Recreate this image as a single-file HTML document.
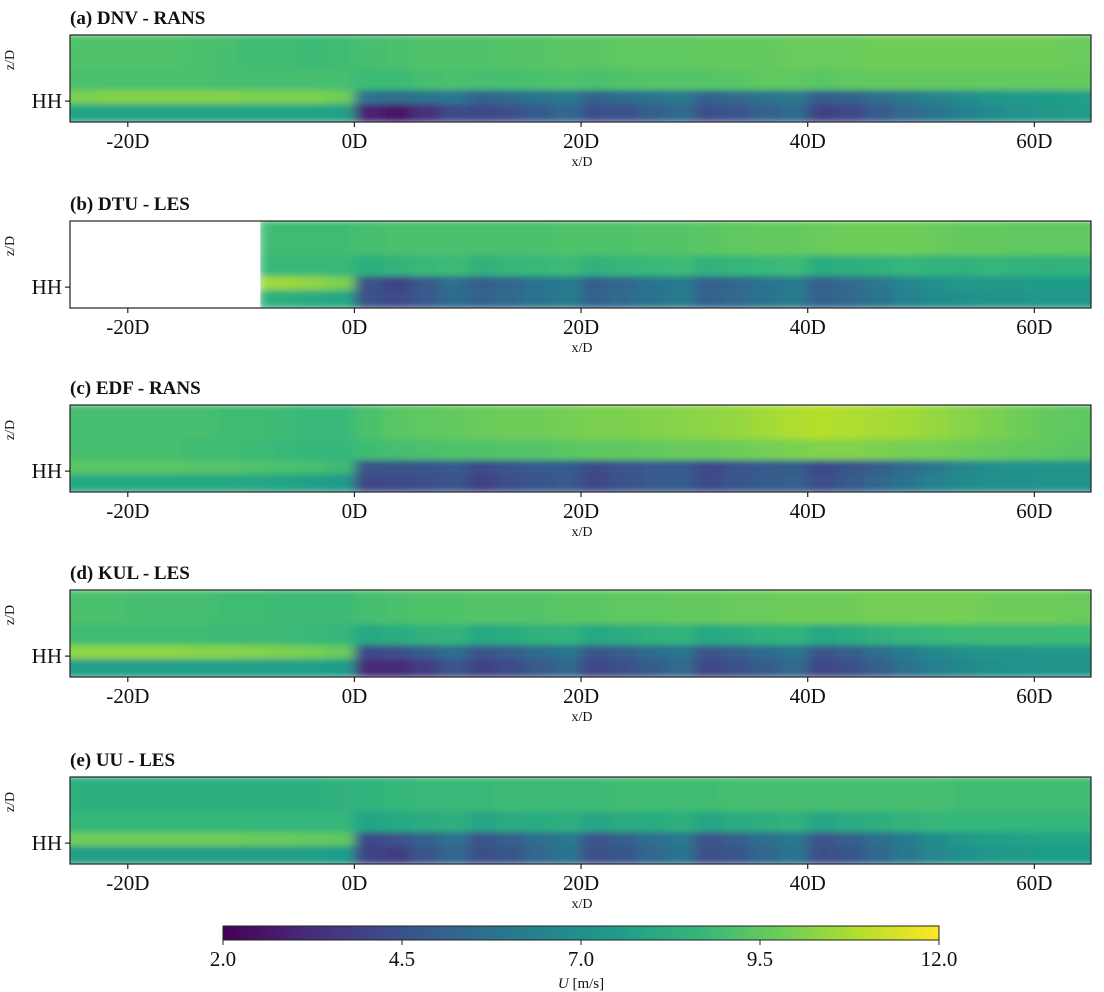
<!DOCTYPE html>
<html><head><meta charset="utf-8">
<style>
html,body{margin:0;padding:0;background:#fff;}
svg{display:block;font-family:"Liberation Serif",serif;}
</style></head>
<body>
<svg id="chart" width="1104" height="992" viewBox="0 0 1104 992" xmlns="http://www.w3.org/2000/svg">
<defs>
<filter id="smooth" x="0" y="0" width="1" height="1"><feGaussianBlur stdDeviation="6 3" edgeMode="duplicate"/></filter>
<linearGradient id="cbgrad" x1="0" x2="1" y1="0" y2="0"></linearGradient>
</defs>
</svg>
<script>
// ---- data ----
const xCenters = [-25,-22.5,-20,-17.5,-15,-12.5,-10,-7.5,-5,-2.5,0,2.5,5,7.5,10,12.5,15,17.5,20,22.5,25,27.5,30,32.5,35,37.5,40,42.5,45,47.5,50,52.5,55,57.5,60,62.5,65];
const xTickValues = [-20,0,20,40,60];
const xTickLabels = ["-20D","0D","20D","40D","60D"];
const cbTickValues = [2.0,4.5,7.0,9.5,12.0];
const cbTickLabels = ["2.0","4.5","7.0","9.5","12.0"];
const panelTitles = ["(a) DNV - RANS","(b) DTU - LES","(c) EDF - RANS","(d) KUL - LES","(e) UU - LES"];
const N = null;
const dnvTop = [9.2,9.2,9.2,9.2,9.1,9.0,8.9,8.9,8.8,8.9,9.0,9.1,9.2,9.2,9.2,9.3,9.3,9.4,9.4,9.5,9.5,9.5,9.6,9.6,9.6,9.7,9.7,9.7,9.8,9.8,9.8,9.8,9.8,9.8,9.8,9.7,9.7];
const dnvMid = [9.1,9.1,9.1,9.1,9.1,9.0,9.0,9.0,9.0,9.0,8.8,8.8,9.0,9.1,9.0,9.0,9.1,9.2,9.1,9.2,9.3,9.3,9.3,9.4,9.5,9.5,9.4,9.5,9.6,9.6,9.6,9.6,9.6,9.6,9.6,9.6,9.6];
const dnvHub = [10.0,10.1,10.1,10.1,10.1,10.1,10.0,10.0,10.0,9.8,5.8,5.6,5.8,6.0,5.2,5.5,5.8,6.0,5.2,5.5,5.8,6.0,5.2,5.4,5.8,6.0,5.0,5.2,5.6,6.0,6.5,6.9,7.2,7.4,7.5,7.6,7.6];
const dnvLow = [7.8,7.8,7.8,7.8,7.8,7.8,7.8,7.8,7.8,7.7,3.0,2.6,3.4,4.3,4.2,4.4,4.9,5.3,4.4,4.5,5.0,5.4,4.4,4.6,5.1,5.5,4.0,4.2,4.8,5.4,5.9,6.4,6.8,7.1,7.3,7.4,7.5];
const dtuTop = [N,N,N,N,N,N,N,8.9,8.9,8.9,9.0,9.1,9.1,9.1,9.1,9.1,9.1,9.2,9.2,9.2,9.3,9.3,9.4,9.5,9.6,9.6,9.7,9.8,9.8,9.8,9.7,9.6,9.6,9.5,9.5,9.5,9.5];
const dtuMid = [N,N,N,N,N,N,N,8.7,8.7,8.7,8.3,8.5,8.7,8.8,8.4,8.6,8.7,8.8,8.4,8.6,8.7,8.8,8.4,8.6,8.7,8.8,8.2,8.3,8.4,8.6,8.5,8.4,8.6,8.5,8.4,8.5,8.4];
const dtuHub = [N,N,N,N,N,N,N,10.5,10.3,10.0,4.5,4.0,4.8,5.6,5.0,5.3,5.8,6.2,5.0,5.3,5.8,6.2,5.0,5.3,5.8,6.2,5.0,5.4,6.0,6.6,7.0,7.3,7.4,7.4,7.5,7.5,7.4];
const dtuLow = [N,N,N,N,N,N,N,8.3,8.1,8.0,4.5,4.3,4.8,5.5,5.2,5.4,5.8,6.1,5.2,5.4,5.8,6.1,5.2,5.4,5.8,6.1,5.2,5.4,5.9,6.4,6.8,7.0,7.2,7.2,7.3,7.3,7.2];
const edfTop = [9.0,9.0,9.0,9.0,9.0,8.9,8.9,8.8,8.7,8.7,9.1,9.4,9.5,9.6,9.7,9.8,9.8,9.9,10.0,10.0,10.1,10.2,10.3,10.4,10.6,10.8,10.9,10.8,10.7,10.6,10.4,10.2,10.0,9.8,9.6,9.5,9.4];
const edfMid = [9.0,9.0,9.0,9.0,8.9,8.9,8.8,8.7,8.6,8.6,8.9,9.0,9.1,9.2,9.2,9.3,9.3,9.4,9.5,9.5,9.6,9.7,9.7,9.8,9.9,10.0,10.1,10.1,10.0,9.9,9.9,9.8,9.7,9.6,9.5,9.4,9.3];
const edfHub = [9.4,9.4,9.4,9.4,9.3,9.3,9.2,9.1,9.0,8.8,4.6,4.6,4.7,4.8,4.3,4.6,4.8,4.9,4.3,4.6,4.8,4.9,4.2,4.6,4.8,4.9,4.2,4.6,5.0,5.4,6.0,6.6,7.0,7.1,7.2,7.2,7.2];
const edfLow = [8.0,8.0,8.0,8.0,8.0,8.0,7.9,7.8,7.6,7.4,4.1,4.2,4.4,4.6,4.0,4.4,4.7,4.8,4.1,4.5,4.8,4.9,4.3,4.7,4.9,5.0,4.4,4.8,5.3,5.8,6.4,6.8,7.0,7.0,7.1,7.1,7.1];
const kulTop = [9.1,9.1,9.0,9.0,9.0,8.9,8.9,8.8,8.8,8.8,9.0,9.1,9.2,9.2,9.3,9.3,9.3,9.4,9.4,9.5,9.5,9.6,9.6,9.7,9.7,9.8,9.8,9.8,9.9,9.9,9.9,9.9,9.8,9.8,9.8,9.7,9.7];
const kulMid = [8.9,8.9,8.9,8.9,8.9,8.8,8.8,8.8,8.7,8.6,8.0,8.2,8.4,8.5,8.0,8.2,8.4,8.5,8.0,8.2,8.4,8.5,8.0,8.2,8.4,8.5,8.0,8.2,8.4,8.6,8.7,8.8,8.8,8.8,8.8,8.8,8.8];
const kulHub = [10.3,10.3,10.3,10.3,10.2,10.2,10.1,10.0,9.9,9.7,4.2,4.4,5.0,5.6,4.6,5.0,5.5,5.9,4.6,5.0,5.5,5.9,4.6,5.0,5.5,5.9,4.6,5.0,5.6,6.2,6.7,7.0,7.2,7.2,7.3,7.3,7.3];
const kulLow = [7.6,7.6,7.6,7.6,7.6,7.6,7.6,7.6,7.6,7.5,3.2,3.2,3.8,4.6,4.0,4.3,4.8,5.3,4.1,4.4,4.9,5.4,4.1,4.4,4.9,5.4,4.1,4.4,5.0,5.7,6.3,6.7,7.0,7.1,7.2,7.2,7.2];
const uuTop = [8.3,8.3,8.3,8.3,8.3,8.3,8.3,8.3,8.3,8.4,8.5,8.6,8.7,8.7,8.7,8.8,8.8,8.8,8.8,8.9,8.9,8.9,8.9,9.0,9.0,9.0,9.0,9.0,9.0,9.0,9.0,8.9,8.9,8.9,8.9,8.9,8.9];
const uuMid = [8.6,8.6,8.6,8.6,8.6,8.6,8.6,8.6,8.6,8.6,7.8,8.0,8.2,8.3,7.9,8.1,8.2,8.3,7.9,8.1,8.2,8.3,7.9,8.1,8.3,8.4,7.9,8.1,8.3,8.5,8.6,8.6,8.6,8.6,8.6,8.6,8.6];
const uuHub = [9.8,9.8,9.8,9.8,9.8,9.8,9.7,9.7,9.6,9.5,4.2,4.5,5.2,5.7,4.6,5.0,5.6,6.0,4.6,5.0,5.6,6.0,4.6,5.0,5.6,6.0,4.6,5.0,5.6,6.2,6.8,7.3,7.6,7.7,7.8,7.8,7.8];
const uuLow = [7.6,7.6,7.6,7.6,7.6,7.6,7.6,7.6,7.6,7.5,4.0,3.8,4.6,5.3,4.4,4.7,5.3,5.8,4.4,4.7,5.3,5.8,4.4,4.7,5.3,5.8,4.4,4.7,5.3,6.0,6.6,7.0,7.3,7.4,7.5,7.5,7.5];
const panelRows = [[dnvTop,dnvMid,dnvHub,dnvLow],[dtuTop,dtuMid,dtuHub,dtuLow],[edfTop,edfMid,edfHub,edfLow],[kulTop,kulMid,kulHub,kulLow],[uuTop,uuMid,uuHub,uuLow]];

// ---- layout ----
const NS="http://www.w3.org/2000/svg";
const svg=document.getElementById('chart');
const panelTops=[35,221,405,590,777];
const panelH=87, X0=70, X1=1091, D0=-25.1, D1=65;
const rowBounds=[0,0.40,0.64,0.80,1.0];
const xs=d=>X0+(d-D0)/(D1-D0)*(X1-X0);
const vmin=2, vmax=12;
const viridis=[[68,1,84],[72,40,120],[62,74,137],[49,104,142],[38,130,142],[31,158,137],[53,183,121],[109,205,89],[180,222,44],[253,231,37]];
function color(v){
  let t=Math.max(0,Math.min(1,(v-vmin)/(vmax-vmin)))*(viridis.length-1);
  const i=Math.min(viridis.length-2,Math.floor(t)), f=t-i;
  const c=viridis[i].map((a,k)=>Math.round(a+(viridis[i+1][k]-a)*f));
  return `rgb(${c[0]},${c[1]},${c[2]})`;
}
function el(tag,attrs,parent){const e=document.createElementNS(NS,tag);for(const k in attrs)e.setAttribute(k,attrs[k]);(parent||svg).appendChild(e);return e;}

panelRows.forEach((rows,p)=>{
  const top=panelTops[p];
  const g=el('g',{});
  
  
  const cp=el('clipPath',{id:'clip'+p},g);
  el('rect',{x:X0,y:top,width:X1-X0,height:panelH},cp);
  const clipG=el('g',{'clip-path':`url(#clip${p})`},g);
  const heat=el('g',{filter:'url(#smooth)'},clipG);
  
  
  let firstValid=xCenters.length;
  rows.forEach(row=>row.forEach((v,i)=>{if(v!==null)firstValid=Math.min(firstValid,i);}));
  rows.forEach((row,r)=>{
    row.forEach((v,i)=>{
      if(v===null) return;
      let a=xCenters[i], b=xCenters[i]+2.5;
      if(i===0) a-=1;
      if(i===firstValid && i>0) a-=1;
      const x0=xs(a), x1=xs(b);
      const y0=top+rowBounds[r]*panelH, y1=top+rowBounds[r+1]*panelH;
      const c=el('rect',{x:x0,y:y0-0.5,width:x1-x0+0.5,height:y1-y0+1,fill:color(v)},heat);
      
      
    });
  });
  if(firstValid>0){
    const wx=xs(xCenters[firstValid]-0.8);
    const w=el('rect',{x:X0,y:top,width:wx-X0,height:panelH,fill:'#fff'},clipG);
    
    
  }
  const fr=el('rect',{x:X0,y:top,width:X1-X0,height:panelH,fill:'none',stroke:'#222','stroke-width':1.2},g);
  
  
  const t=el('text',{x:70,y:top-11,'font-size':19,'font-weight':'bold',fill:'#111'},g);
  t.textContent=panelTitles[p];
  
  
  xTickValues.forEach((d,i)=>{
    const x=xs(d);
    el('line',{x1:x,x2:x,y1:top+panelH,y2:top+panelH+5,stroke:'#222','stroke-width':1.2},g);
    const tl=el('text',{x:x,y:top+panelH+26,'font-size':21,'text-anchor':'middle',fill:'#111'},g);
    tl.textContent=xTickLabels[i];
    
    
  });
  const xl=el('text',{x:582,y:top+panelH+44,'font-size':14,'text-anchor':'middle',fill:'#111'},g);
  xl.textContent='x/D';
  
  
  const hy=top+0.76*panelH;
  el('line',{x1:X0-5,x2:X0,y1:hy,y2:hy,stroke:'#222','stroke-width':1.2},g);
  const hh=el('text',{x:X0-8,y:hy+7,'font-size':21,'text-anchor':'end',fill:'#111'},g);
  hh.textContent='HH';
  
  
  const yl=el('text',{x:0,y:0,'font-size':14,'text-anchor':'middle',fill:'#111',transform:`translate(14,${top+25}) rotate(-90)`},g);
  yl.textContent='z/D';
  
  
});

// ---- colorbar ----
const CB0=223, CB1=939, CBY=926, CBH=14;
const grad=document.getElementById('cbgrad');
viridis.forEach((c,i)=>{el('stop',{offset:(i/(viridis.length-1)),'stop-color':`rgb(${c[0]},${c[1]},${c[2]})`},grad);});
const cb=el('rect',{x:CB0,y:CBY,width:CB1-CB0,height:CBH,fill:'url(#cbgrad)',stroke:'#222','stroke-width':1});


const cbx=v=>CB0+(v-vmin)/(vmax-vmin)*(CB1-CB0);
cbTickValues.forEach((v,i)=>{
  el('line',{x1:cbx(v),x2:cbx(v),y1:CBY+CBH,y2:CBY+CBH+5,stroke:'#222'});
  const t=el('text',{x:cbx(v),y:966,'font-size':21,'text-anchor':'middle',fill:'#111'});
  t.textContent=cbTickLabels[i];
  
  
});
const cbl=el('text',{x:581,y:988,'font-size':15,'text-anchor':'middle',fill:'#111'});
cbl.innerHTML='<tspan font-style="italic">U</tspan> [m/s]';


</script>
</body></html>
